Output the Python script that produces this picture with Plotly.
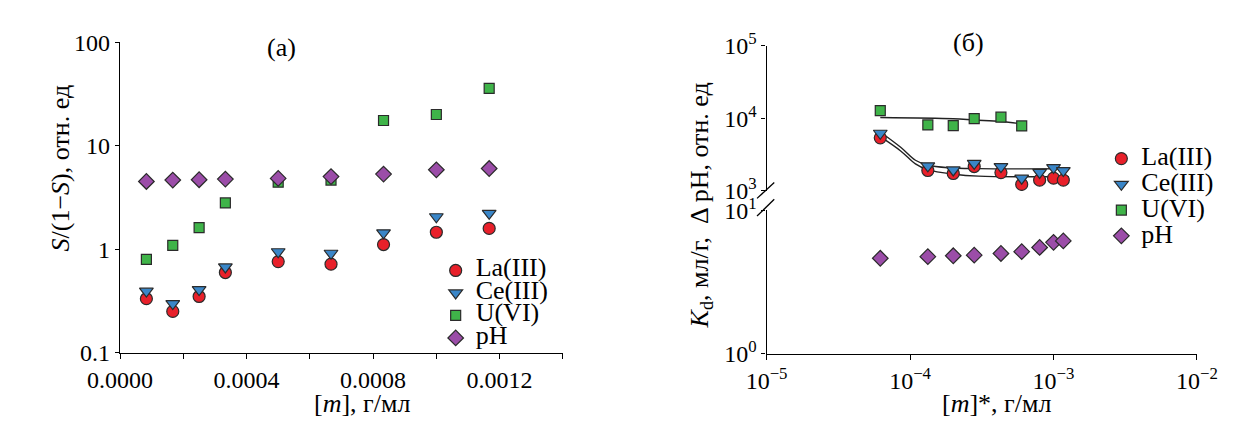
import plotly.graph_objects as go

# ---------- panel (а): S/(1-S) and pH versus sorbent concentration ----------
m_a = [0.0000833, 0.0001667, 0.00025, 0.000333, 0.0005, 0.000667, 0.000833, 0.001, 0.001167]
la_a = [0.333, 0.251, 0.35, 0.596, 0.76, 0.718, 1.11, 1.46, 1.59]
ce_a = [0.394, 0.299, 0.408, 0.675, 0.946, 0.915, 1.44, 2.06, 2.22]
u_a = [0.80, 1.09, 1.62, 2.8, 4.44, 4.66, 17.5, 20.0, 35.8]
ph_a = [4.51, 4.66, 4.69, 4.76, 4.83, 5.03, 5.32, 5.85, 6.02]

xa_tickvals = [0.0, 0.0002, 0.0004, 0.0006, 0.0008, 0.0010, 0.0012, 0.0014]
xa_ticktext = ["0.0000", "", "0.0004", "", "0.0008", "", "0.0012", ""]
ya_tickvals = [0.1, 1, 10, 100]
ya_ticktext = ["0.1", "1", "10", "100"]

# ---------- panel (б): Kd and pH versus [m]* ----------
m_b = [6.2e-5, 1.33e-4, 2.0e-4, 2.8e-4, 4.3e-4, 6.0e-4, 8.0e-4, 1.0e-3, 1.17e-3]
la_b = [5390, 1914, 1740, 2170, 1790, 1230, 1410, 1500, 1410]
ce_b = [6240, 2220, 1950, 2400, 2170, 1500, 1800, 2100, 1910]
m_b_u = [6.2e-5, 1.33e-4, 2.0e-4, 2.8e-4, 4.3e-4, 6.0e-4]
u_b = [12780, 8130, 7960, 9910, 10390, 7870]
ph_b = [4.64, 4.76, 4.83, 4.88, 5.01, 5.16, 5.52, 5.99, 6.13]

# fitted curves
fit_ce_m = [6.2e-5, 8.6e-5, 1.09e-4, 1.32e-4, 1.85e-4, 3.0e-4, 1.28e-3]
fit_ce_kd = [6500, 4000, 2650, 2280, 2090, 2030, 2020]
fit_la_m = [6.2e-5, 8.6e-5, 1.09e-4, 1.32e-4, 2.03e-4, 3.0e-4, 1.28e-3]
fit_la_kd = [5600, 3560, 2360, 1970, 1700, 1600, 1570]
fit_u_m = [6.2e-5, 2.0e-4, 2.8e-4, 4.3e-4, 6.0e-4]
fit_u_kd = [10300, 9900, 9500, 9050, 8400]

xb_tickvals = [1e-5, 1e-4, 1e-3, 1e-2]
xb_ticktext = ["10<sup>−5</sup>", "10<sup>−4</sup>", "10<sup>−3</sup>", "10<sup>−2</sup>"]
yb_top_tickvals = [1e3, 1e4, 1e5]
yb_top_ticktext = ["10<sup>3</sup>", "10<sup>4</sup>", "10<sup>5</sup>"]
yb_bot_tickvals = [1, 10]
yb_bot_ticktext = ["10<sup>0</sup>", "10<sup>1</sup>"]

names = ["La(III)", "Ce(III)", "U(VI)", "pH"]
colors = ["#E8202A", "#3A86C8", "#3FB449", "#9B4DA8"]
symbols = ["circle", "triangle-down", "square", "diamond"]
sizes = [12, 12, 10, 12]

W, H = 1240, 430
FONT = "Liberation Serif"
EDGE = "#2b2b2b"
TICK_SIZE = 24
TEXT_SIZE = 26


def px(x, y):
    return x / W, 1 - y / H


def mk(i):
    return dict(symbol=symbols[i], size=sizes[i], color=colors[i],
                line=dict(color=EDGE, width=1.2))


def leg_label(t):
    return '<span style="font-size:26px">' + t + "</span>"


fig = go.Figure()

# panel (а)
for i, ys in enumerate([la_a, ce_a, u_a, ph_a]):
    fig.add_trace(go.Scatter(x=m_a, y=ys, mode="markers", marker=mk(i),
                             name=leg_label(names[i]), xaxis="x", yaxis="y",
                             legend="legend", showlegend=True))

# panel (б) fitted lines
for fx, fy in [(fit_ce_m, fit_ce_kd), (fit_la_m, fit_la_kd), (fit_u_m, fit_u_kd)]:
    fig.add_trace(go.Scatter(x=fx, y=fy, mode="lines", line=dict(color="#222", width=1.4, shape="spline"),
                             xaxis="x2", yaxis="y2", showlegend=False, hoverinfo="skip"))

# panel (б) points
for i, (xs, ys, ya) in enumerate([(m_b, la_b, "y2"), (m_b, ce_b, "y2"), (m_b_u, u_b, "y2"), (m_b, ph_b, "y3")]):
    fig.add_trace(go.Scatter(x=xs, y=ys, mode="markers", marker=mk(i),
                             name=leg_label(names[i]), xaxis="x2", yaxis=ya,
                             legend="legend2", showlegend=True))

axis_common = dict(showline=True, linecolor="#000", linewidth=1.3, ticks="outside",
                   tickcolor="#000", tickwidth=1.3, ticklen=5, showgrid=False, zeroline=False,
                   tickfont=dict(family=FONT, size=TICK_SIZE, color="#000"))

l0, _ = px(91, 0)
l1, _ = px(554, 0)
_, ya0 = px(0, 361)
_, ya1 = px(0, 27)
r0, _ = px(767, 0)
r1, _ = px(1217, 0)
_, yt0 = px(0, 187)
_, yt1 = px(0, 31)
_, yb0 = px(0, 362)
_, yb1 = px(0, 208)

fig.update_layout(
    width=W, height=H, margin=dict(l=0, r=0, t=0, b=0),
    paper_bgcolor="white", plot_bgcolor="white",
    font=dict(family=FONT, size=TICK_SIZE, color="#000"),
    xaxis=dict(axis_common, domain=[l0, l1], range=[0, 0.0014], tickvals=xa_tickvals,
               ticktext=xa_ticktext, anchor="y"),
    yaxis=dict(axis_common, domain=[ya0, ya1], type="log", range=[-1, 2], tickvals=ya_tickvals,
               ticktext=ya_ticktext, anchor="x", ticklen=4),
    xaxis2=dict(axis_common, domain=[r0, r1], type="log", range=[-5, -2], tickvals=xb_tickvals,
                ticktext=xb_ticktext, anchor="y3"),
    yaxis2=dict(axis_common, domain=[yt0, yt1], type="log", range=[3, 5], tickvals=yb_top_tickvals,
                ticktext=yb_top_ticktext, anchor="x2", ticklen=4),
    yaxis3=dict(axis_common, domain=[yb0, yb1], type="log", range=[0, 1], tickvals=yb_bot_tickvals,
                ticktext=yb_bot_ticktext, anchor="x2", ticklen=4),
    legend=dict(x=px(421, 0)[0], y=px(0, 255)[1], xanchor="left", yanchor="top",
                bgcolor="rgba(0,0,0,0)", font=dict(family=FONT, size=15, color="#000"),
                itemclick=False, itemdoubleclick=False),
    legend2=dict(x=px(1117, 0)[0], y=px(0, 133)[1], xanchor="left", yanchor="top",
                 bgcolor="rgba(0,0,0,0)", font=dict(family=FONT, size=17.5, color="#000"),
                 itemclick=False, itemdoubleclick=False),
    showlegend=True,
)

ann = dict(xref="paper", yref="paper", showarrow=False, font=dict(family=FONT, size=TEXT_SIZE, color="#000"))
annotations = [
    dict(ann, text="(а)", x=px(260, 0)[0], y=px(0, 33)[1], xanchor="center", yanchor="middle"),
    dict(ann, text="(б)", x=px(978, 0)[0], y=px(0, 27)[1], xanchor="center", yanchor="middle"),
    dict(ann, text="[<i>m</i>], г/мл", x=px(344, 0)[0], y=px(0, 416)[1], xanchor="center", yanchor="middle"),
    dict(ann, text="[<i>m</i>]*, г/мл", x=px(1007, 0)[0], y=px(0, 415)[1], xanchor="center", yanchor="middle"),
    dict(ann, text="<i>S</i>/(1−<i>S</i>), отн. ед", x=px(29, 0)[0], y=px(0, 162)[1],
         xanchor="center", yanchor="middle", textangle=-90),
    dict(ann, text="<i>K</i><sub>d</sub>, мл/г,  Δ pH, отн. ед", x=px(698, 0)[0], y=px(0, 203)[1],
         xanchor="center", yanchor="middle", textangle=-90),
]
fig.update_layout(annotations=annotations)

# break marks on the right-hand y axis
shapes = []
for (xa_, ya_), (xb_, yb_) in [((757, 195), (775, 178)), ((757, 214), (775, 196))]:
    p0 = px(xa_, ya_)
    p1 = px(xb_, yb_)
    shapes.append(dict(type="line", xref="paper", yref="paper", x0=p0[0], y0=p0[1], x1=p1[0], y1=p1[1],
                       line=dict(color="#000", width=1.3)))
fig.update_layout(shapes=shapes)

fig.write_html("out.html")
